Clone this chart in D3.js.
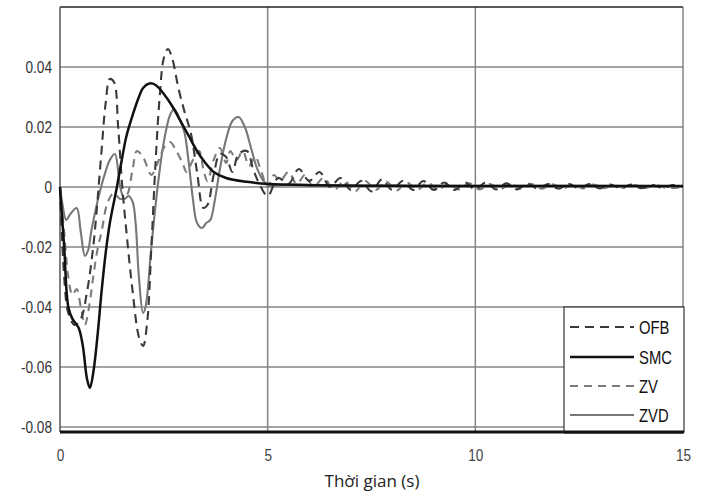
<!DOCTYPE html>
<html><head><meta charset="utf-8">
<script src="https://cdn.jsdelivr.net/npm/d3@7"></script>
<style>
body{margin:0;background:#fff;}
text{font-family:"Liberation Sans",Arial,sans-serif;}
</style></head>
<body><svg id="c" width="711" height="493"></svg>
<script>
// ---- data (time s, value) ----
const xTicks = [0, 5, 10, 15];
const yTicks = [0.04, 0.02, 0, -0.02, -0.04, -0.06, -0.08];
const yTickLabels = ["0.04", "0.02", "0", "-0.02", "-0.04", "-0.06", "-0.08"];
const seriesNames = ["OFB", "SMC", "ZV", "ZVD"];

const ofb = [[0,0],[0.1,-0.03],[0.2,-0.042],[0.35,-0.046],[0.5,-0.044],[0.65,-0.035],[0.8,-0.02],[0.9,-0.005],[1.0,0.012],[1.1,0.028],[1.2,0.036],[1.3,0.035],[1.4,0.02],[1.5,0.0],[1.6,-0.015],[1.75,-0.035],[1.9,-0.05],[2.0,-0.053],[2.1,-0.045],[2.2,-0.02],[2.3,0.008],[2.4,0.03],[2.5,0.043],[2.6,0.046],[2.7,0.043],[2.85,0.033],[3.0,0.025],[3.15,0.018],[3.3,0.005],[3.45,-0.007],[3.55,-0.006],[3.7,0.004],[3.85,0.011],[4.0,0.01],[4.15,0.005],[4.3,0.011],[4.5,0.012],[4.65,0.006],[4.8,0.001],[5.0,-0.003],[5.25,0.003],[5.5,0.001],[5.75,0.006],[6.0,0.002],[6.25,0.005],[6.5,0.0],[6.75,0.003],[7.0,-0.001],[7.25,0.002],[7.5,-0.0015],[7.75,0.0025],[8.0,-0.001],[8.25,0.002],[8.5,-0.001],[8.75,0.002],[9.0,-0.001],[9.25,0.0015],[9.5,-0.001],[9.75,0.0015],[10.0,-0.0008],[10.25,0.0015],[10.5,-0.0008],[10.75,0.0012],[11.0,-0.0008],[11.25,0.0012],[11.5,-0.0006],[11.75,0.001],[12.0,-0.0006],[12.25,0.001],[12.5,-0.0005],[12.75,0.001],[13.0,-0.0005],[13.25,0.0008],[13.5,-0.0004],[13.75,0.0008],[14.0,-0.0004],[14.25,0.0007],[14.5,-0.0003],[14.75,0.0006],[15.0,0.0]];

const smc = [[0,0],[0.1,-0.02],[0.2,-0.04],[0.3,-0.044],[0.45,-0.047],[0.55,-0.053],[0.65,-0.064],[0.72,-0.067],[0.8,-0.062],[0.9,-0.05],[1.0,-0.035],[1.1,-0.022],[1.2,-0.012],[1.37,0.0],[1.5,0.01],[1.6,0.017],[1.75,0.024],[1.9,0.03],[2.0,0.033],[2.15,0.0345],[2.3,0.034],[2.5,0.031],[2.7,0.027],[2.9,0.022],[3.1,0.017],[3.3,0.012],[3.5,0.008],[3.7,0.005],[4.0,0.003],[4.5,0.0017],[5.0,0.001],[6.0,0.0006],[8.0,0.0004],[10.0,0.0003],[15.0,0.0003]];

const zv = [[0,0],[0.1,-0.015],[0.2,-0.03],[0.3,-0.036],[0.4,-0.034],[0.5,-0.04],[0.6,-0.046],[0.7,-0.04],[0.8,-0.03],[0.9,-0.021],[1.0,-0.015],[1.15,-0.005],[1.3,-0.002],[1.45,-0.004],[1.6,-0.003],[1.75,0.006],[1.85,0.012],[2.0,0.01],[2.2,0.004],[2.35,0.008],[2.5,0.013],[2.65,0.015],[2.8,0.012],[2.95,0.008],[3.05,0.005],[3.2,0.009],[3.35,0.012],[3.45,0.006],[3.55,0.002],[3.7,0.009],[3.85,0.013],[4.0,0.008],[4.1,0.012],[4.25,0.009],[4.4,0.012],[4.55,0.007],[4.7,0.01],[4.85,0.005],[5.0,0.0],[5.15,0.004],[5.3,0.002],[5.5,0.005],[5.7,0.001],[5.9,0.004],[6.1,0.0],[6.35,0.003],[6.6,-0.001],[6.85,0.002],[7.1,-0.0015],[7.35,0.002],[7.6,-0.001],[7.85,0.0018],[8.1,-0.0012],[8.35,0.0015],[8.6,-0.001],[8.85,0.0015],[9.1,-0.001],[9.35,0.0012],[9.6,-0.0008],[9.85,0.0012],[10.1,-0.0008],[10.35,0.001],[10.6,-0.0007],[10.85,0.001],[11.1,-0.0006],[11.35,0.001],[11.6,-0.0006],[11.85,0.0009],[12.1,-0.0005],[12.35,0.0008],[12.6,-0.0005],[12.85,0.0008],[13.1,-0.0004],[13.35,0.0007],[13.6,-0.0004],[13.85,0.0006],[14.1,-0.0003],[14.35,0.0006],[14.6,-0.0003],[15.0,0.0]];

const zvd = [[0,0],[0.05,-0.005],[0.15,-0.011],[0.25,-0.009],[0.4,-0.007],[0.5,-0.015],[0.6,-0.023],[0.68,-0.021],[0.75,-0.015],[0.9,-0.005],[1.05,0.003],[1.2,0.009],[1.32,0.011],[1.45,0.0],[1.55,-0.004],[1.65,-0.003],[1.75,-0.005],[1.82,-0.012],[1.9,-0.03],[2.0,-0.042],[2.06,-0.04],[2.2,-0.02],[2.35,0.0],[2.5,0.015],[2.65,0.024],[2.75,0.026],[2.9,0.022],[3.0,0.018],[3.1,0.008],[3.2,-0.004],[3.3,-0.012],[3.42,-0.0137],[3.52,-0.012],[3.62,-0.011],[3.72,-0.005],[3.85,0.006],[4.0,0.016],[4.15,0.022],[4.3,0.0233],[4.45,0.02],[4.6,0.013],[4.75,0.006],[4.9,0.002],[5.05,0.0005],[5.5,0.0008],[7.0,0.0005],[10.0,0.0004],[15.0,0.0003]];

// ---- chart ----
const svg = d3.select("#c");
const x = d3.scaleLinear().domain([0, 15]).range([60, 683]);
const y = d3.scaleLinear().domain([-0.0817, 0.06]).range([432, 7]);

// condense a text selection horizontally (narrow font look)
function narrow(sel, k) {
  sel.each(function() {
    const len = this.getComputedTextLength();
    d3.select(this).attr("textLength", len * k).attr("lengthAdjust", "spacingAndGlyphs");
  });
}

// grid
const g = svg.append("g");
g.selectAll(".gx").data(xTicks.slice(1, 3)).enter().append("line")
  .attr("x1", d => x(d)).attr("x2", d => x(d)).attr("y1", y(0.06)).attr("y2", y(-0.0817))
  .attr("stroke", "#858585").attr("stroke-width", 1.5);
g.selectAll(".gy").data(yTicks).enter().append("line")
  .attr("x1", x(0)).attr("x2", x(15)).attr("y1", d => y(d)).attr("y2", d => y(d))
  .attr("stroke", "#858585").attr("stroke-width", 1.5);

// axes text
const yAxis = d3.axisLeft(y).tickValues(yTicks).tickFormat((d, i) => yTickLabels[i]).tickSize(0).tickPadding(8);
const ya = svg.append("g").attr("transform", `translate(${x(0)},0)`).call(yAxis);
ya.select(".domain").remove();
ya.selectAll("text").attr("font-size", 17).attr("fill", "#333")
  .style("font-family", '"Liberation Sans",Arial,sans-serif').call(narrow, 0.8);

const xAxis = d3.axisBottom(x).tickValues(xTicks).tickFormat(d3.format("d")).tickSize(0).tickPadding(17);
const xa = svg.append("g").attr("transform", `translate(0,${y(-0.0817)})`).call(xAxis);
xa.select(".domain").remove();
xa.selectAll("text").attr("font-size", 17).attr("fill", "#444")
  .style("font-family", '"Liberation Sans",Arial,sans-serif').call(narrow, 0.8);

// frame
svg.append("line").attr("x1", x(0)).attr("x2", x(15)).attr("y1", y(0.06)).attr("y2", y(0.06)).attr("stroke", "#222").attr("stroke-width", 1.5);
svg.append("line").attr("x1", x(0)).attr("x2", x(0)).attr("y1", y(0.06)).attr("y2", y(-0.0817)).attr("stroke", "#555").attr("stroke-width", 1.5);
svg.append("line").attr("x1", x(15)).attr("x2", x(15)).attr("y1", y(0.06)).attr("y2", y(-0.0817)).attr("stroke", "#666").attr("stroke-width", 1.2);

// series
const line = d3.line().x(d => x(d[0])).y(d => y(d[1])).curve(d3.curveCatmullRom.alpha(0.5));
const styles = [
  {data: ofb, stroke: "#3a3a3a", w: 2.1, dash: "9,6"},
  {data: smc, stroke: "#111", w: 2.5, dash: null},
  {data: zv, stroke: "#7c7c7c", w: 2.1, dash: "8,6"},
  {data: zvd, stroke: "#777", w: 2.1, dash: null}
];
const order = [3, 2, 0, 1];
order.forEach(i => {
  const s = styles[i];
  svg.append("path").datum(s.data).attr("d", line).attr("fill", "none")
    .attr("stroke", s.stroke).attr("stroke-width", s.w)
    .attr("stroke-dasharray", s.dash).attr("stroke-linejoin", "round");
});

// bottom thick axis line
svg.append("line").attr("x1", x(0)).attr("x2", x(15)).attr("y1", y(-0.0817)).attr("y2", y(-0.0817)).attr("stroke", "#111").attr("stroke-width", 3);

// legend
const lg = svg.append("g");
lg.append("rect").attr("x", 564).attr("y", 307).attr("width", 120).attr("height", 125)
  .attr("fill", "#fff").attr("stroke", "#333").attr("stroke-width", 1.2);
const legY = [327, 357, 386, 415];
seriesNames.forEach((n, i) => {
  const s = styles[i];
  lg.append("line").attr("x1", 570).attr("x2", 634).attr("y1", legY[i]).attr("y2", legY[i])
    .attr("stroke", s.stroke).attr("stroke-width", s.w).attr("stroke-dasharray", s.dash);
  lg.append("text").attr("x", 639).attr("y", legY[i]).attr("dy", "0.36em")
    .attr("font-size", 19).attr("fill", "#111").text(n).call(narrow, 0.78);
});
svg.append("line").attr("x1", 564).attr("x2", 684).attr("y1", 432).attr("y2", 432).attr("stroke", "#111").attr("stroke-width", 3);

// x title
svg.append("text").attr("x", 372).attr("y", 487).attr("text-anchor", "middle")
  .attr("font-size", 17).attr("fill", "#222")
  .style("font-family", '"Open Sans","Noto Sans",sans-serif').text("Thời gian (s)");
</script></body></html>
